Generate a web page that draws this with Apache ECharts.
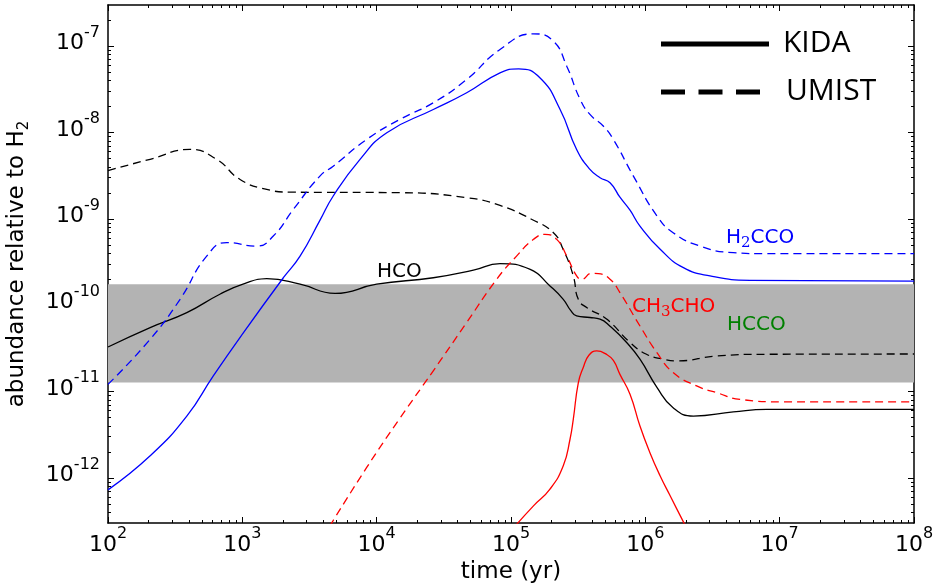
<!DOCTYPE html>
<html><head><meta charset="utf-8">
<script src="https://cdn.jsdelivr.net/npm/echarts@6/dist/echarts.min.js"></script>
<style>html,body{margin:0;padding:0;background:#fff}#c{width:934px;height:587px}</style>
</head><body><div id="c"></div>
<script>
// ---- axis definitions ----
const xTickExponents = [2, 3, 4, 5, 6, 7, 8];
const yTickExponents = [-12, -11, -10, -9, -8, -7];
const xRange = [1e2, 1e8];
const yRange = [3e-13, 3e-7];
const bandRange = [1.27e-11, 1.75e-10];

// ---- HCO (black) ----
const hcoKidaTime  = [1e2, 2.06e2, 3.86e2, 6.8e2, 1.0e3, 1.52e3, 2.69e3, 4.9e3, 1.0e4, 2.64e4, 5.25e4, 8.28e4, 1.39e5, 1.95e5, 2.45e5, 2.78e5, 3.08e5, 3.87e5, 4.6e5, 5.46e5, 7.26e5, 9.12e5, 1.22e6, 1.61e6, 2.28e6, 4.52e6, 8.0e6, 1e8];
const hcoKidaAbund = [3.28e-11, 5.5e-11, 8.2e-11, 1.34e-10, 1.74e-10, 2.03e-10, 1.75e-10, 1.37e-10, 1.75e-10, 2.08e-10, 2.55e-10, 3.03e-10, 2.6e-10, 1.67e-10, 1.17e-10, 8.7e-11, 7.5e-11, 7.2e-11, 6.9e-11, 5.7e-11, 3.7e-11, 2.37e-11, 1.12e-11, 6.5e-12, 5.2e-12, 5.8e-12, 6.2e-12, 6.2e-12];
const hcoUmistTime  = [1e2, 2.06e2, 4.07e2, 6.44e2, 9.62e2, 1.52e3, 2.27e3, 1.49e4, 4.68e4, 8.28e4, 1.42e5, 2.07e5, 2.45e5, 2.91e5, 3.17e5, 3.66e5, 5.15e5, 7.69e5, 1.02e6, 1.36e6, 1.71e6, 3.4e6, 8.0e6, 1e8];
const hcoUmistAbund = [3.63e-9, 4.9e-9, 6.37e-9, 4.89e-9, 2.86e-9, 2.19e-9, 2.04e-9, 2.01e-9, 1.76e-9, 1.43e-9, 9.9e-10, 6.9e-10, 4.4e-10, 2.18e-10, 1.17e-10, 9.4e-11, 6.9e-11, 3.7e-11, 2.7e-11, 2.37e-11, 2.26e-11, 2.58e-11, 2.7e-11, 2.72e-11];

// ---- H2CCO (blue) ----
const h2ccoKidaTime  = [1e2, 2.06e2, 3.86e2, 6.08e2, 1.02e3, 2.02e3, 2.69e3, 3.78e3, 4.75e3, 7.52e3, 1.19e4, 2.64e4, 4.68e4, 8.28e4, 1.14e5, 1.64e5, 2.32e5, 3.08e5, 3.87e5, 4.6e5, 5.46e5, 6.47e5, 7.69e5, 9.12e5, 1.29e6, 1.92e6, 3.03e6, 6.01e6, 1e8];
const h2ccoKidaAbund = [7.26e-13, 1.8e-12, 5.2e-12, 1.52e-11, 4.82e-11, 2.08e-10, 3.7e-10, 9.6e-10, 1.84e-9, 4.89e-9, 9.95e-9, 1.85e-8, 2.89e-8, 4.92e-8, 5.47e-8, 4.31e-8, 1.85e-8, 6.37e-9, 3.74e-9, 3.0e-9, 2.62e-9, 1.78e-9, 1.26e-9, 8.26e-10, 4.44e-10, 2.72e-10, 2.18e-10, 1.94e-10, 1.9e-10];
const h2ccoUmistTime  = [1e2, 2.06e2, 3.44e2, 5.43e2, 7.66e2, 1.28e3, 1.7e3, 2.4e3, 3.78e3, 4.75e3, 8.43e3, 1.49e4, 2.64e4, 4.68e4, 8.28e4, 1.47e5, 2.07e5, 2.6e5, 3.27e5, 3.87e5, 4.86e5, 5.78e5, 8.15e5, 1.22e6, 1.61e6, 2.55e6, 4.52e6, 8.0e6, 1e8];
const h2ccoUmistAbund = [1.21e-11, 4.03e-11, 1.17e-10, 3.7e-10, 5.31e-10, 4.84e-10, 6.32e-10, 1.29e-9, 3.13e-9, 4.08e-9, 8.32e-9, 1.42e-8, 2.21e-8, 4.12e-8, 9.16e-8, 1.39e-7, 1.14e-7, 5.87e-8, 2.42e-8, 1.62e-8, 1.19e-8, 8.32e-9, 3.13e-9, 1.08e-9, 6.92e-10, 4.84e-10, 4.06e-10, 3.95e-10, 3.95e-10];

// ---- CH3CHO (red) ----
const ch3choKidaTime  = [1.07e5, 1.47e5, 1.95e5, 2.45e5, 2.75e5, 2.91e5, 3.17e5, 3.45e5, 3.8e5, 4.35e5, 5.15e5, 5.78e5, 6.47e5, 7.69e5, 9.12e5, 1.08e6, 1.29e6, 1.53e6, 1.92e6, 2.09e6];
const ch3choKidaAbund = [2.75e-13, 4.74e-13, 7.4e-13, 1.38e-12, 2.8e-12, 4.8e-12, 1.26e-11, 1.9e-11, 2.63e-11, 2.95e-11, 2.69e-11, 2.29e-11, 1.58e-11, 9.3e-12, 3.98e-12, 1.97e-12, 1.05e-12, 6.2e-13, 3.09e-13, 2.4e-13];
const ch3choUmistTime  = [4.47e3, 8.43e3, 1.49e4, 2.64e4, 4.68e4, 7.83e4, 1.1e5, 1.47e5, 1.79e5, 2.19e5, 2.6e5, 3.08e5, 3.36e5, 3.98e5, 4.47e5, 5.46e5, 6.47e5, 9.12e5, 1.22e6, 1.61e6, 2.41e6, 3.4e6, 5.07e6, 1.06e7, 1e8];
const ch3choUmistAbund = [2.75e-13, 1.32e-12, 4.9e-12, 1.74e-11, 6.3e-11, 2.0e-10, 3.7e-10, 5.79e-10, 6.62e-10, 5.79e-10, 3.7e-10, 2.18e-10, 2.0e-10, 2.34e-10, 2.32e-10, 2.0e-10, 1.4e-10, 5.74e-11, 2.82e-11, 1.66e-11, 1.16e-11, 9.7e-12, 8.1e-12, 7.6e-12, 7.6e-12];

// ---- helpers ----
const L = Math.log10;
const pairs = (t, a) => t.map((v, i) => [L(v), L(a[i])]);
function minorTicks(lo, hi) {
  const out = [];
  for (let n = Math.floor(lo) - 1; n <= Math.ceil(hi); n++) {
    for (let k = 2; k <= 9; k++) {
      const v = n + L(k);
      if (v > lo + 1e-3 && v < hi - 1e-3) out.push(v);
    }
  }
  return out;
}
const xMin = L(xRange[0]), xMax = L(xRange[1]);
const yMin = L(yRange[0]), yMax = L(yRange[1]);
const xMinor = minorTicks(xMin, xMax);
const yMinor = minorTicks(yMin, yMax);

const FONT = 'DejaVu Sans';
const tickRich = {
  b: { fontFamily: FONT, fontSize: 22, lineHeight: 30, verticalAlign: 'bottom', color: '#000' },
  s: { fontFamily: FONT, fontSize: 16, lineHeight: 16, verticalAlign: 'top', color: '#000' }
};
const fmt = v => '{b|10}{s|' + Math.round(v) + '}';
const lineCol = { color: '#000', width: 1.5 };

function makeAxis(kind, pos, major, withLabel, extra) {
  const isX = kind === 'x';
  const ax = {
    type: 'value',
    min: isX ? xMin : yMin,
    max: isX ? xMax : yMax,
    position: pos,
    axisLine: { show: major, onZero: false, lineStyle: lineCol },
    axisTick: {
      show: true, inside: true, length: major ? 6 : 3,
      customValues: major ? (isX ? xTickExponents : yTickExponents) : (isX ? xMinor : yMinor),
      lineStyle: { color: '#000', width: 1 }
    },
    axisLabel: { show: false },
    splitLine: { show: false },
    minorTick: { show: false },
    minorSplitLine: { show: false }
  };
  if (withLabel) {
    ax.axisLabel = {
      show: true,
      customValues: isX ? xTickExponents : yTickExponents,
      formatter: fmt, rich: tickRich, color: '#000',
      margin: isX ? 3 : 8,
      padding: isX ? 0 : [0, 0, 13, 0],
      hideOverlap: false
    };
  }
  return Object.assign(ax, extra || {});
}

const series = [];
series.push({
  type: 'line', data: [[xMin, yMin]], symbol: 'none', z: 1, silent: true,
  lineStyle: { opacity: 0 },
  markArea: {
    silent: true,
    itemStyle: { color: '#b3b3b3', opacity: 1 },
    data: [[{ yAxis: L(bandRange[0]) }, { yAxis: L(bandRange[1]) }]]
  }
});
function addLine(name, t, a, color, dashed) {
  series.push({
    type: 'line', name, data: pairs(t, a), symbol: 'none', showSymbol: false,
    smooth: 0.5, z: 3, silent: true,
    lineStyle: { color, width: 1.3, type: dashed ? [8, 5] : 'solid' }
  });
}
addLine('HCO KIDA', hcoKidaTime, hcoKidaAbund, '#000000', false);
addLine('HCO UMIST', hcoUmistTime, hcoUmistAbund, '#000000', true);
addLine('H2CCO KIDA', h2ccoKidaTime, h2ccoKidaAbund, '#0000ff', false);
addLine('H2CCO UMIST', h2ccoUmistTime, h2ccoUmistAbund, '#0000ff', true);
addLine('CH3CHO KIDA', ch3choKidaTime, ch3choKidaAbund, '#ff0000', false);
addLine('CH3CHO UMIST', ch3choUmistTime, ch3choUmistAbund, '#ff0000', true);

// annotation text pieces (main text + subscript as separate text elements)
function txt(x, y, text, col, font) {
  return { type: 'text', x, y, z: 10, silent: true,
    style: { text, fill: col, align: 'left', verticalAlign: 'middle', font } };
}
const MAIN = '20px "DejaVu Sans"';
const SUB = '15px "DejaVu Serif"';

const option = {
  animation: false,
  backgroundColor: '#fff',
  grid: { left: 108, right: 20, top: 5, bottom: 64, containLabel: false, outerBoundsMode: 'none' },
  xAxis: [
    makeAxis('x', 'bottom', true, true, {
      name: 'time (yr)', nameLocation: 'middle', nameGap: 36,
      nameTextStyle: { fontFamily: FONT, fontSize: 23, color: '#000' }
    }),
    makeAxis('x', 'bottom', false, false),
    makeAxis('x', 'top', true, false),
    makeAxis('x', 'top', false, false)
  ],
  yAxis: [
    makeAxis('y', 'left', true, true, {
      name: '{t|abundance relative to H}{u|2}', nameLocation: 'middle', nameGap: 76, nameRotate: 90,
      nameTextStyle: {
        color: '#000',
        rich: {
          t: { fontFamily: FONT, fontSize: 23, lineHeight: 26, verticalAlign: 'top', color: '#000' },
          u: { fontFamily: FONT, fontSize: 15, lineHeight: 14, verticalAlign: 'top', padding: [11, 0, 0, 0], color: '#000' }
        }
      }
    }),
    makeAxis('y', 'left', false, false),
    makeAxis('y', 'right', true, false),
    makeAxis('y', 'right', false, false)
  ],
  series,
  graphic: [
    { type: 'line', z: 10, silent: true, shape: { x1: 661, y1: 44, x2: 769, y2: 44 }, style: { stroke: '#000', lineWidth: 5 } },
    { type: 'line', z: 10, silent: true, shape: { x1: 661, y1: 92, x2: 769, y2: 92 }, style: { stroke: '#000', lineWidth: 5, lineDash: [24, 13.5] } },
    { type: 'text', x: 783, y: 43, z: 10, silent: true, style: { text: 'KIDA', font: '30px "Open Sans"', fill: '#000', align: 'left', verticalAlign: 'middle' } },
    { type: 'text', x: 786, y: 91, z: 10, silent: true, style: { text: 'UMIST', font: '30px "Open Sans"', fill: '#000', align: 'left', verticalAlign: 'middle' } },
    txt(377, 272, 'HCO', '#000000', MAIN),
    txt(726, 238, 'H', '#0000ff', MAIN),
    txt(741, 243.5, '2', '#0000ff', SUB),
    txt(750.5, 238, 'CCO', '#0000ff', MAIN),
    txt(632, 307, 'CH', '#ff0000', MAIN),
    txt(661, 312.5, '3', '#ff0000', SUB),
    txt(670.5, 307, 'CHO', '#ff0000', MAIN),
    txt(727, 325, 'HCCO', '#008000', MAIN)
  ]
};
const chart = echarts.init(document.getElementById('c'), null, { renderer: 'canvas' });
chart.setOption(option);
</script>
</body></html>
